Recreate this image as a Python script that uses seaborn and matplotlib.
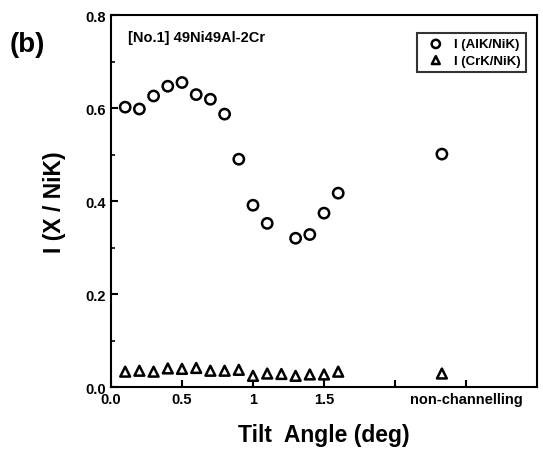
import matplotlib as mpl
import matplotlib.pyplot as plt
import seaborn as sns
import numpy as np

sns.set_style('ticks')
mpl.rcParams['font.family'] = ['Liberation Sans', 'DejaVu Sans']
mpl.rcParams['font.weight'] = 'bold'
for key in ['text.color', 'axes.labelcolor', 'xtick.color', 'ytick.color', 'axes.edgecolor']:
    mpl.rcParams[key] = 'black'

# tilt angles (2.33 = non-channelling position)
al_angle = [0.1, 0.2, 0.3, 0.4, 0.5, 0.6, 0.7, 0.8, 0.9, 1.0, 1.1, 1.3, 1.4, 1.5, 1.6, 2.33]
al_ratio = [0.602, 0.598, 0.626, 0.647, 0.655, 0.629, 0.619, 0.587, 0.490, 0.391,
            0.352, 0.320, 0.328, 0.374, 0.417, 0.501]

cr_angle = [0.1, 0.2, 0.3, 0.4, 0.5, 0.6, 0.7, 0.8, 0.9, 1.0, 1.1, 1.2, 1.3, 1.4, 1.5, 1.6, 2.33]
cr_ratio = [0.033, 0.035, 0.033, 0.040, 0.039, 0.041, 0.035, 0.035, 0.037, 0.024,
            0.029, 0.028, 0.024, 0.027, 0.027, 0.033, 0.029]

x_ticks = [0, 0.5, 1, 1.5, 2, 2.5]
x_labels = ['0.0', '0.5', '1', '1.5', '', 'non-channelling']
y_ticks = [0.0, 0.2, 0.4, 0.6, 0.8]

fig = plt.figure(figsize=(5.43, 4.6), dpi=100)
ax = fig.add_axes([0.2044, 0.1565, 0.7846, 0.8085])

sns.scatterplot(x=al_angle, y=al_ratio, marker='o', s=55, facecolor='none',
                edgecolor='black', linewidth=1.8, label='I (AlK/NiK)', ax=ax)
sns.scatterplot(x=cr_angle, y=cr_ratio, marker='^', s=50, facecolor='none',
                edgecolor='black', linewidth=1.8, label='I (CrK/NiK)', ax=ax)

ax.set_xlim(0, 3.0)
ax.set_ylim(0, 0.8)
ax.set_xticks(x_ticks)
ax.set_xticklabels(x_labels)
ax.set_yticks(y_ticks)
ax.set_yticks([0.1, 0.3, 0.5, 0.7], minor=True)
ax.tick_params(direction='in', length=5, width=1.5, labelsize=10.5)
ax.tick_params(which='minor', direction='in', length=3, width=1.2)
for lab in ax.get_xticklabels() + ax.get_yticklabels():
    lab.set_fontweight('bold')
for sp in ax.spines.values():
    sp.set_linewidth(1.5)

ax.set_xlabel('Tilt  Angle (deg)', fontsize=16.5, fontweight='bold', labelpad=12)
ax.set_ylabel('I (X / NiK)', fontsize=16.5, fontweight='bold', labelpad=14)

leg = ax.legend(loc='upper right', bbox_to_anchor=(0.99, 0.97), frameon=True,
                fancybox=False, edgecolor='black', fontsize=9.5, markerscale=0.8,
                handletextpad=0.4, borderpad=0.4, labelspacing=0.3)
leg.get_frame().set_linewidth(1.5)
for t in leg.get_texts():
    t.set_fontweight('bold')

ax.text(0.04, 0.94, '[No.1] 49Ni49Al-2Cr', transform=ax.transAxes,
        fontsize=10.5, fontweight='bold', va='center')
fig.text(0.018, 0.902, '(b)', fontsize=20, fontweight='bold', va='center')

plt.savefig('out.png', dpi=100)
